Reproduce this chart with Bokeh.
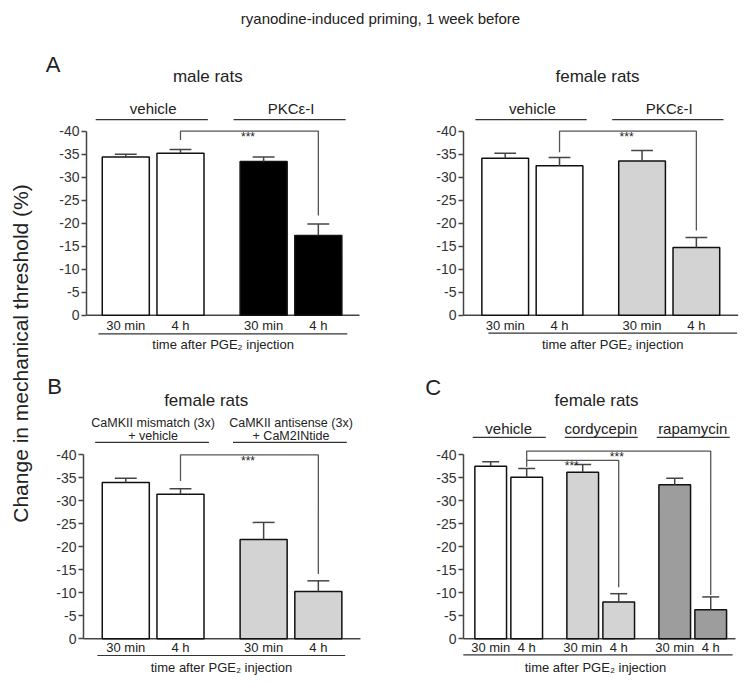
import math
from bokeh.plotting import figure
from bokeh.models import Range1d, FixedTicker
from bokeh.layouts import column, row
from bokeh.core.properties import value
from bokeh.embed import file_html
from bokeh.resources import INLINE

FONT = "Liberation Sans"

# ---------------- data ----------------
main_title = "ryanodine-induced priming, 1 week before"
y_label = "Change in mechanical threshold (%)"
x_title = "time after PGE\u2082 injection"
y_ticks = [0, -5, -10, -15, -20, -25, -30, -35, -40]
time_labels = ["30 min", "4 h"]

# Panel A, male rats
a1_groups = ["vehicle", "PKC\u03b5-I"]
a1_mean = [-34.4, -35.2, -33.4, -17.3]
a1_err = [0.6, 0.8, 1.0, 2.5]
a1_fill = ["white", "white", "black", "black"]

# Panel A, female rats
a2_groups = ["vehicle", "PKC\u03b5-I"]
a2_mean = [-34.1, -32.5, -33.5, -14.7]
a2_err = [1.1, 1.8, 2.3, 2.2]
a2_fill = ["white", "white", "#d3d3d3", "#d3d3d3"]

# Panel B, female rats
b_groups = [["CaMKII mismatch (3x)", "+ vehicle"], ["CaMKII antisense (3x)", "+ CaM2INtide"]]
b_mean = [-34.0, -31.4, -21.6, -10.3]
b_err = [0.9, 1.2, 3.7, 2.3]
b_fill = ["white", "white", "#d3d3d3", "#d3d3d3"]

# Panel C, female rats
c_groups = ["vehicle", "cordycepin", "rapamycin"]
c_mean = [-37.5, -35.1, -36.2, -8.0, -33.5, -6.3]
c_err = [1.0, 1.9, 1.7, 1.8, 1.4, 2.8]
c_fill = ["white", "white", "#d3d3d3", "#d3d3d3", "#9d9d9d", "#9d9d9d"]

# significance brackets: (bar from, bar to, left start, top level, right end)
a1_sig = [(1, 3, -38.1, -40.0, -21.7)]
a2_sig = [(1, 3, -35.4, -40.0, -18.4)]
b_sig = [(1, 3, -34.3, -40.0, -14.1)]
c_sig = [(1, 3, -37.4, -38.8, -11.2), (1, 5, -38.8, -40.8, -9.5)]

TXT = "#222222"
AX = "#444444"


def positions(n_groups, group_pitch):
    pos = []
    for g in range(n_groups):
        pos += [g * group_pitch, g * group_pitch + 1]
    return pos


def base_panel(width, height, xr, yr, axis_x, axis_end):
    p = figure(width=width, height=height, x_range=Range1d(*xr), y_range=Range1d(*yr),
               output_backend="svg", toolbar_location=None, x_axis_location=None,
               min_border=0)
    p.outline_line_color = None
    for g in p.grid:
        g.visible = False
    ax = p.yaxis[0]
    ax.fixed_location = axis_x
    ax.bounds = (-40, 0)
    ax.ticker = FixedTicker(ticks=y_ticks)
    ax.major_label_overrides = {t: str(t) for t in y_ticks}
    ax.minor_tick_line_color = None
    ax.major_tick_in = 0
    ax.major_tick_out = 5
    ax.major_tick_line_color = AX
    ax.major_tick_line_width = 1.3
    ax.axis_line_color = AX
    ax.axis_line_width = 1.5
    ax.major_label_text_font = FONT
    ax.major_label_text_font_size = "14px"
    ax.major_label_text_color = "#333333"
    ax.major_label_standoff = 2
    p.segment(x0=[axis_x], y0=[0], x1=[axis_end], y1=[0], line_color=AX, line_width=1.5)
    return p


def txt(p, x, y, s, size, align="center", baseline="middle"):
    p.text(x=[x], y=[y], text=[s], text_font=value(FONT), text_font_size=value(size),
           text_align=align, text_baseline=baseline, text_color=TXT)


def draw(p, pos, mean, err, fill, bw, cw, sig, tick_y, line_y, xt_x, xt_y,
         xline, title, title_x, title_y, letter=None):
    p.vbar(x=pos, width=bw, bottom=0, top=mean, fill_color=fill,
           line_color="#111111", line_width=1.5)
    tops = [m - e for m, e in zip(mean, err)]
    p.segment(x0=pos, y0=mean, x1=pos, y1=tops, line_color=AX, line_width=1.5)
    p.segment(x0=[x - cw / 2 for x in pos], y0=tops, x1=[x + cw / 2 for x in pos], y1=tops,
              line_color=AX, line_width=1.5)
    for (i, j, ys, yt, ye) in sig:
        x1, x2 = pos[i], pos[j]
        p.line(x=[x1, x1, x2, x2], y=[ys, yt, yt, ye], line_color="#555555", line_width=1.3)
        txt(p, x1 + 0.49 * (x2 - x1), yt + 1.3, "***", "12px", baseline="alphabetic")
    for x, s in zip(pos, time_labels * (len(pos) // 2)):
        txt(p, x, tick_y, s, "13px")
    p.segment(x0=[xline[0]], y0=[line_y], x1=[xline[1]], y1=[line_y], line_color="#333333",
              line_width=1.2)
    txt(p, xt_x, xt_y, x_title, "13px")
    txt(p, title_x, title_y, title, "17px")
    if letter:
        txt(p, letter[1], letter[2], letter[0], "22px")


def groups_simple(p, pos, names, ty, ly, size, lo=0.55, hi=0.5):
    for g, name in enumerate(names):
        a, b = pos[2 * g], pos[2 * g + 1]
        txt(p, (a + b) / 2, ty, name, size)
        p.segment(x0=[a - lo], y0=[ly], x1=[b + hi], y1=[ly], line_color="#333333", line_width=1.2)


# ---------------- panel A male ----------------
pa = positions(2, 2.52)
A1 = base_panel(335, 312, (-1.559, 4.565), (8.11, -59.72), -0.718, 4.273)
draw(A1, pa, a1_mean, a1_err, a1_fill, 0.86, 0.4, a1_sig, 2.24, 4.05, 1.78, 6.4,
     (-0.5, 4.05), "male rats", 1.5, -51.9, ("A", -1.33, -54.5))
groups_simple(A1, pa, a1_groups, -45.0, -42.5, "15px")

# ---------------- panel A female ----------------
A2 = base_panel(375, 312, (-2.389, 4.517), (8.11, -59.72), -0.768, 4.29)
draw(A2, pa, a2_mean, a2_err, a2_fill, 0.86, 0.4, a2_sig, 2.24, 3.9, 1.98, 6.4,
     (-0.31, 4.27), "female rats", 1.7, -51.9)
groups_simple(A2, pa, a2_groups, -45.0, -42.5, "15px")

# ---------------- panel B ----------------
B = base_panel(335, 328, (-1.559, 4.565), (9.07, -62.24), -0.773, 4.29)
draw(B, pa, b_mean, b_err, b_fill, 0.86, 0.4, b_sig, 1.96, 3.63, 1.75, 6.2,
     (-0.52, 4.01), "female rats", 1.47, -51.8, ("B", -1.30, -54.9))
for g, lines in enumerate(b_groups):
    a, b = pa[2 * g], pa[2 * g + 1]
    txt(B, (a + b) / 2, -47.0, lines[0], "12.5px")
    txt(B, (a + b) / 2, -44.0, lines[1], "12.5px")
    B.segment(x0=[a - 0.56], y0=[-42.7], x1=[b + 0.52], y1=[-42.7], line_color="#333333",
              line_width=1.2)

# ---------------- panel C ----------------
pc = positions(3, 2.556)
C = base_panel(375, 328, (-3.2, 7.217), (9.07, -62.24), -0.756, 6.8)
draw(C, pc, c_mean, c_err, c_fill, 0.88, 0.47, c_sig, 1.96, 3.5, 2.91, 6.2,
     (-0.76, 6.72), "female rats", 2.94, -51.8, ("C", -1.60, -54.7))
groups_simple(C, pc, c_groups, -45.7, -43.8, "15px", lo=0.5, hi=0.53)

# ---------------- title & y label ----------------
T = figure(width=750, height=40, x_range=Range1d(0, 750), y_range=Range1d(0, 40),
           output_backend="svg", toolbar_location=None, x_axis_location=None,
           y_axis_location=None, min_border=0)
T.outline_line_color = None
for g in T.grid:
    g.visible = False
txt(T, 380, 22, main_title, "15px")

Y = figure(width=40, height=640, x_range=Range1d(0, 40), y_range=Range1d(0, 640),
           output_backend="svg", toolbar_location=None, x_axis_location=None,
           y_axis_location=None, min_border=0)
Y.outline_line_color = None
for g in Y.grid:
    g.visible = False
Y.text(x=[20], y=[327], text=[y_label], angle=math.pi / 2, text_font=value(FONT),
       text_font_size=value("21px"), text_align="center", text_baseline="middle",
       text_color=TXT)

layout = column(T, row(Y, column(row(A1, A2), row(B, C))))
open("out.html", "w").write(file_html(layout, INLINE))
